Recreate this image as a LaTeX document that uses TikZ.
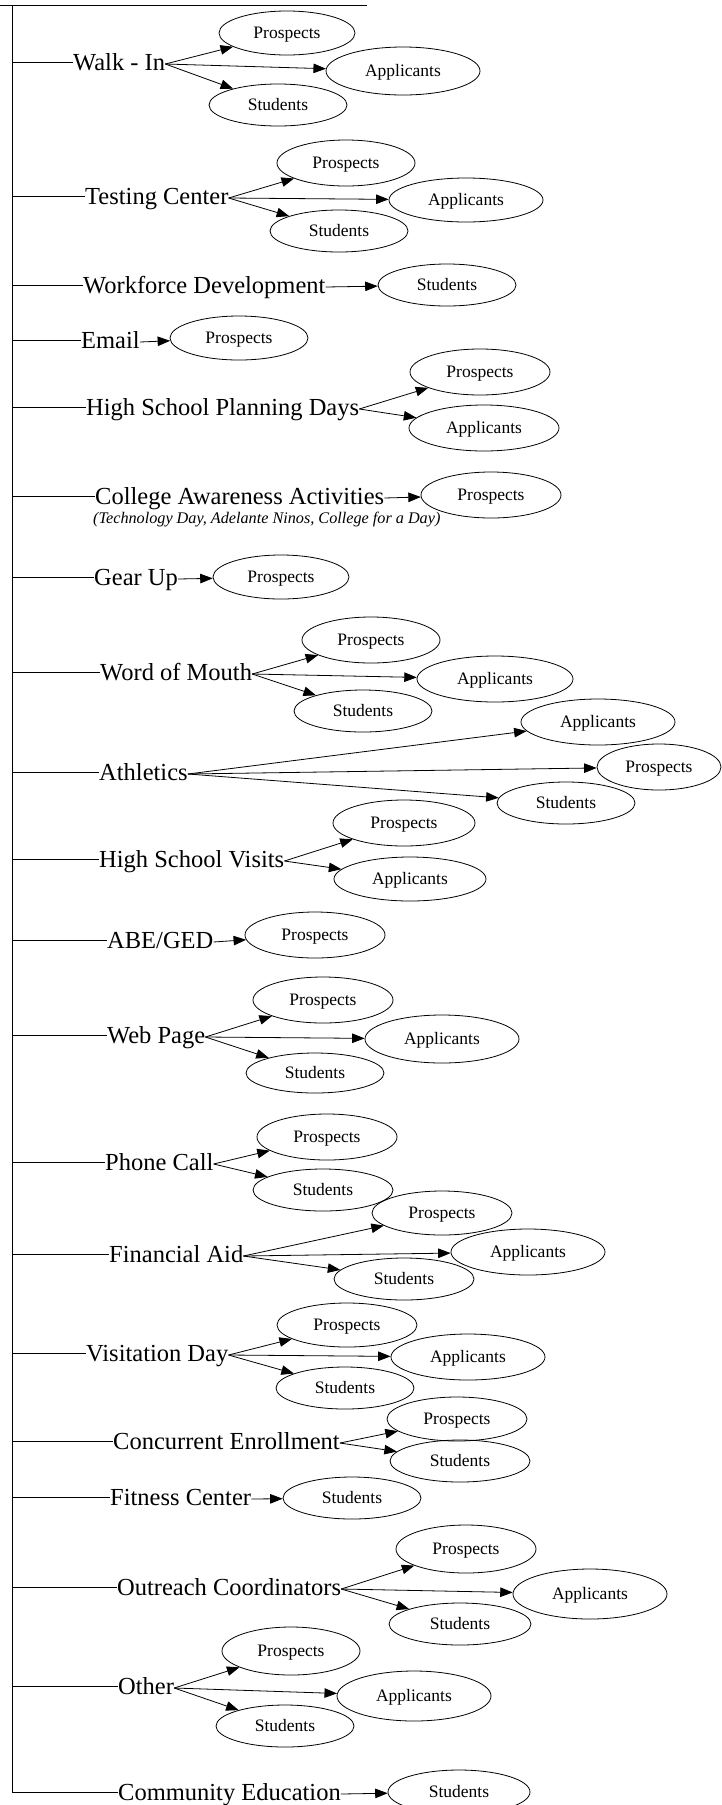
\documentclass[tikz,border=0pt]{standalone}
\usepackage{fontspec}
\setmainfont{Liberation Serif}
\usetikzlibrary{arrows.meta,shapes.geometric}

\tikzset{
  src/.style={anchor=west, inner sep=0pt, text height=16pt, text depth=0pt,
              font=\fontsize{24.5}{28}\selectfont},
  tgt/.style={draw, ellipse, inner sep=0pt, line width=0.8pt,
              text height=11.5pt, text depth=0pt,
              font=\fontsize{17.5}{20}\selectfont},
  note/.style={anchor=west, inner sep=0pt, font=\fontsize{16.2}{19}\selectfont\itshape},
  arr/.style={-{Triangle[length=12.5pt,width=9.5pt]}, line width=0.8pt},
  link/.style={line width=0.8pt},
}

% target ellipse: name, x, y, half width, half height, label
\newcommand{\tgnode}[6]{%
  \node[tgt, minimum width=#4*2pt, minimum height=#5*2pt] (#1) at (#2,#3) {#6};}

\begin{document}
\begin{tikzpicture}[x=1pt,y=-1pt]
\useasboundingbox (0,0) rectangle (721,1805);

% rule and spine
\coordinate (ruleL) at (0,5);
\coordinate (ruleR) at (367,5);
\draw[link] (ruleL) -- (ruleR);
\coordinate (spine) at (12,5);

% sources
\node[src] (walkin)    at (73,62)    {Walk - In};
\node[src] (testing)   at (85,196)   {Testing Center};
\node[src] (workforce) at (83,285)   {Workforce Development};
\node[src] (email)     at (81,340)   {Email};
\node[src] (hspd)      at (86,407)   {High School Planning Days};
\node[src] (caa)       at (95,496)   {College Awareness Activities};
\node[note] (caanote)  at (93,520)   {(Technology Day, Adelante Ninos, College for a Day)};
\node[src] (gearup)    at (94,577)   {Gear Up};
\node[src] (wom)       at (100,672)  {Word of Mouth};
\node[src] (athletics) at (99,772)   {Athletics};
\node[src] (hsv)       at (99,859)   {High School Visits};
\node[src] (abeged)    at (107,940)  {ABE/GED};
\node[src] (webpage)   at (107,1035) {Web Page};
\node[src] (phone)     at (105,1162) {Phone Call};
\node[src] (finaid)    at (109,1254) {Financial Aid};
\node[src] (visit)     at (86,1353)  {Visitation Day};
\node[src] (concur)    at (113,1441) {Concurrent Enrollment};
\node[src] (fitness)   at (110,1497) {Fitness Center};
\node[src] (outreach)  at (117,1587) {Outreach Coordinators};
\node[src] (other)     at (118,1686) {Other};
\node[src] (commed)    at (118,1792) {Community Education};

% spine and branches
\draw[link] (spine) -- (spine |- commed.west);
\foreach \s in {walkin,testing,workforce,email,hspd,caa,gearup,wom,athletics,hsv,
                abeged,webpage,phone,finaid,visit,concur,fitness,outreach,other,commed}
  \draw[link] (spine |- \s.west) -- (\s.west);

% targets
\tgnode{walkinP}{287}{33}{68}{22}{Prospects}
\tgnode{walkinA}{403}{71}{77}{24}{Applicants}
\tgnode{walkinS}{278}{105}{69}{21}{Students}

\tgnode{testingP}{346}{163}{69}{23}{Prospects}
\tgnode{testingA}{466}{200}{77}{22}{Applicants}
\tgnode{testingS}{339}{231}{69}{21}{Students}

\tgnode{workforceS}{447}{285}{69}{21}{Students}

\tgnode{emailP}{239}{338}{69}{22}{Prospects}

\tgnode{hspdP}{480}{372}{70}{23}{Prospects}
\tgnode{hspdA}{484}{428}{75}{23}{Applicants}

\tgnode{caaP}{491}{495}{70}{23}{Prospects}

\tgnode{gearupP}{281}{577}{68}{22}{Prospects}

\tgnode{womP}{371}{640}{69}{23}{Prospects}
\tgnode{womA}{495}{679}{78}{23}{Applicants}
\tgnode{womS}{363}{711}{69}{21}{Students}

\tgnode{athleticsA}{598}{722}{77}{23}{Applicants}
\tgnode{athleticsP}{659}{767}{62}{23}{Prospects}
\tgnode{athleticsS}{566}{803}{69}{21}{Students}

\tgnode{hsvP}{404}{823}{71}{23}{Prospects}
\tgnode{hsvA}{410}{879}{76}{22}{Applicants}

\tgnode{abegedP}{315}{935}{70}{23}{Prospects}

\tgnode{webpageP}{323}{1000}{70}{23}{Prospects}
\tgnode{webpageA}{442}{1039}{77}{24}{Applicants}
\tgnode{webpageS}{315}{1073}{69}{20}{Students}

\tgnode{phoneP}{327}{1137}{70}{23}{Prospects}
\tgnode{phoneS}{323}{1190}{70}{21}{Students}

\tgnode{finaidP}{442}{1213}{70}{22}{Prospects}
\tgnode{finaidA}{528}{1252}{77}{23}{Applicants}
\tgnode{finaidS}{404}{1279}{70}{21}{Students}

\tgnode{visitP}{347}{1325}{70}{22}{Prospects}
\tgnode{visitA}{468}{1357}{77}{23}{Applicants}
\tgnode{visitS}{345}{1388}{69}{21}{Students}

\tgnode{concurP}{457}{1419}{70}{22}{Prospects}
\tgnode{concurS}{460}{1461}{70}{21}{Students}

\tgnode{fitnessS}{352}{1498}{69}{21}{Students}

\tgnode{outreachP}{466}{1549}{70}{24}{Prospects}
\tgnode{outreachA}{590}{1594}{77}{25}{Applicants}
\tgnode{outreachS}{460}{1624}{71}{21}{Students}

\tgnode{otherP}{291}{1651}{69}{24}{Prospects}
\tgnode{otherA}{414}{1696}{77}{25}{Applicants}
\tgnode{otherS}{285}{1726}{69}{21}{Students}

\tgnode{commedS}{459}{1792}{71}{22}{Students}

% connectors, leaving each label just below its middle
\foreach \s/\t in {walkin/walkinP, walkin/walkinA, walkin/walkinS,
                   testing/testingP, testing/testingA, testing/testingS,
                   workforce/workforceS, email/emailP,
                   hspd/hspdP, hspd/hspdA, caa/caaP, gearup/gearupP,
                   wom/womP, wom/womA, wom/womS,
                   athletics/athleticsA, athletics/athleticsP, athletics/athleticsS,
                   hsv/hsvP, hsv/hsvA, abeged/abegedP,
                   webpage/webpageP, webpage/webpageA, webpage/webpageS,
                   phone/phoneP, phone/phoneS,
                   finaid/finaidP, finaid/finaidA, finaid/finaidS,
                   visit/visitP, visit/visitA, visit/visitS,
                   concur/concurP, concur/concurS, fitness/fitnessS,
                   outreach/outreachP, outreach/outreachA, outreach/outreachS,
                   other/otherP, other/otherA, other/otherS,
                   commed/commedS}
  \draw[arr] ([yshift=-2pt]\s.east) -- (\t);
\end{tikzpicture}
\end{document}
